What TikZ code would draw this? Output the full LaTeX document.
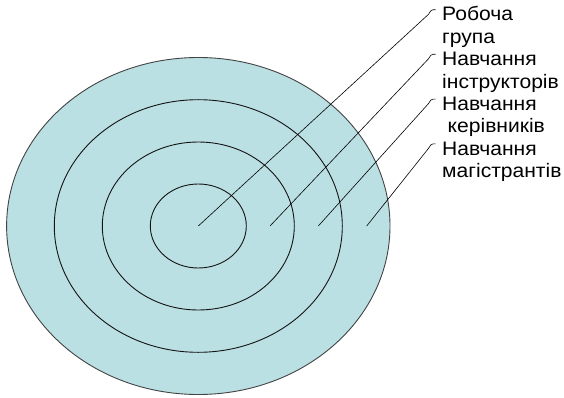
\documentclass[tikz,border=0pt]{standalone}
\usepackage{fontspec}
\setmainfont{Liberation Sans}
\newfontfamily\labelfont[FakeStretch=1.08]{Liberation Sans}
\usetikzlibrary{calc}
\definecolor{ringfill}{RGB}{187,224,227}
\definecolor{ringline}{RGB}{20,20,20}
\begin{document}
\begin{tikzpicture}[x=1pt,y=-1pt,
  ring/.style={draw=ringline,line width=0.9pt},
  leader/.style={draw=black,line width=0.6pt},
  label/.style={anchor=base west,inner sep=0pt,align=left,
    font=\labelfont\fontsize{19.5}{22.4}\selectfont}]
\useasboundingbox (0,0) rectangle (564,398);
% concentric rings
\coordinate (c) at (198.3,226);
\fill[ringfill] (c) ellipse [x radius=191.7, y radius=168.5];
\draw[ring,draw=ringline!80] (c) ellipse [x radius=191.7, y radius=168.5];
\draw[ring] (c) ellipse [x radius=144, y radius=126.3];
\draw[ring] (c) ellipse [x radius=96, y radius=84];
\draw[ring] (c) ellipse [x radius=48, y radius=42];
% start points of the leaders, one in each ring
\coordinate (s1) at (198.3,226);
\coordinate (s2) at (270,226);
\coordinate (s3) at (318.3,226);
\coordinate (s4) at (366.7,226);
% hook ends next to the labels
\coordinate (h1) at (435.5,9.8);
\coordinate (h2) at (435.5,54.3);
\coordinate (h3) at (435.5,99.1);
\coordinate (h4) at (435.5,143.9);
% labels (anchored at the baseline of their last line)
\node[label] (l1) at (442,43.4) {Робоча\\група};
\node[label] (l2) at (442,88.2) {Навчання\\інструкторів};
\node[label] (l3) at (442,133) {Навчання\\\hspace*{5.5pt}керівників};
\node[label] (l4) at (442,177.8) {Навчання\\магістрантів};
% leaders with a small hook at the top
\foreach \i in {1,2,3,4}{
  \draw[leader] (s\i) -- ($(h\i)+(-7,4.5)$) .. controls ($(h\i)+(-4.5,0.5)$) .. ($(h\i)+(-2.5,0)$) -- (h\i);
}
\end{tikzpicture}
\end{document}
